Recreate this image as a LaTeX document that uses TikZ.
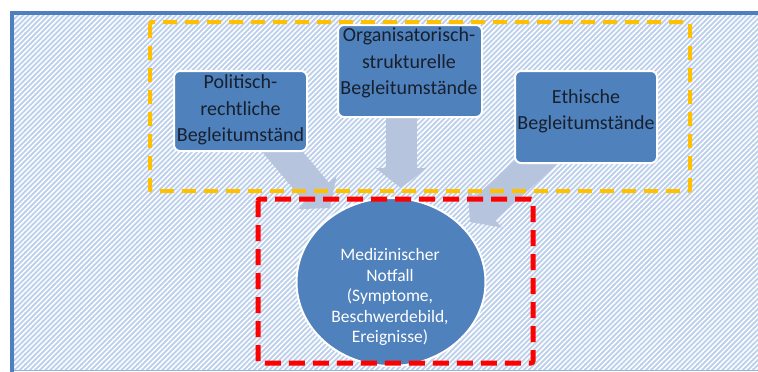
\documentclass[tikz,border=0pt]{standalone}
\usepackage{fontspec}
\setmainfont{Carlito}
\usetikzlibrary{arrows.meta,patterns.meta,shapes.geometric}
\definecolor{shapeblue}{HTML}{4F81BD}
\definecolor{frameblue}{HTML}{4F7FBF}
\definecolor{hatchblue}{HTML}{BCD0EC}
\definecolor{arrowgrey}{HTML}{B6C5DD}
\definecolor{boxtext}{HTML}{18202E}
\definecolor{dashyellow}{HTML}{FFC000}
\definecolor{dashred}{HTML}{FF0000}
\tikzset{
  boxshape/.style={draw=white, line width=2pt, fill=shapeblue, rounded corners=6pt,
    inner sep=0pt},
  boxlabel/.style={text=boxtext, align=center, inner sep=0pt,
    font=\fontsize{20}{26.5}\selectfont},
  centrelabel/.style={text=white, align=center, inner sep=0pt,
    font=\fontsize{17.5}{20.5}\selectfont},
  flowarrow/.style={draw=arrowgrey, line width=31pt,
    -{Triangle[width=50pt,length=20pt]}},
  yellowframe/.style={draw=dashyellow, line width=4pt, dash pattern=on 14pt off 8pt,
    rounded corners=2pt},
  redframe/.style={draw=dashred, line width=5pt, dash pattern=on 16pt off 8pt,
    rounded corners=2pt}
}
\begin{document}
\begin{tikzpicture}[x=1pt,y=-1pt]
\useasboundingbox (0,0) rectangle (758,372);
\fill[white] (0,0) rectangle (758,372);
% hatched panel
\fill[hatchblue] (11,13) rectangle (758,370);
\fill[pattern={Lines[angle=45,distance=3.6pt,line width=1.5pt]}, pattern color=white]
  (11,13) rectangle (758,370);
\draw[frameblue!60, line width=1.5pt] (12,370.5) -- (758,370.5);
\draw[frameblue, line width=4.5pt] (12,372) -- (12,13) -- (758,13);

% arrow ends
\coordinate (a1s) at (269,136);
\coordinate (a1e) at (330,208);
\coordinate (a2s) at (401,100);
\coordinate (a2e) at (401,188);
\coordinate (a3s) at (550,150);
\coordinate (a3e) at (470,222);
\draw[flowarrow] (a1s) -- (a1e);
\draw[flowarrow] (a2s) -- (a2e);
\draw[flowarrow] (a3s) -- (a3e);

% the three surrounding conditions
\node[boxshape, minimum width=133pt, minimum height=80pt] (b1) at (240.5,111) {};
\node[boxlabel] (t1) at (240.5,110) {Politisch-\\rechtliche\\Begleitumständ};
\node[boxshape, minimum width=144pt, minimum height=92pt] (b2) at (410,71) {};
\node[boxlabel] (t2) at (409,63) {Organisatorisch-\\strukturelle\\Begleitumstände};
\node[boxshape, minimum width=142pt, minimum height=92pt] (b3) at (586,117) {};
\node[boxlabel] (t3) at (586,111.5) {Ethische\\Begleitumstände};

% central event
\node[ellipse, draw=white, line width=2pt, fill=shapeblue, inner sep=0pt,
  minimum width=189pt, minimum height=168pt] (c) at (391,282) {};
\node[centrelabel] (ct) at (390,297)
  {Medizinischer\\Notfall\\(Symptome,\\Beschwerdebild,\\Ereignisse)};

% dashed groupings
\draw[yellowframe] (150,22) rectangle (690,191);
\draw[redframe] (258,199) rectangle (533,363);
\end{tikzpicture}
\end{document}
